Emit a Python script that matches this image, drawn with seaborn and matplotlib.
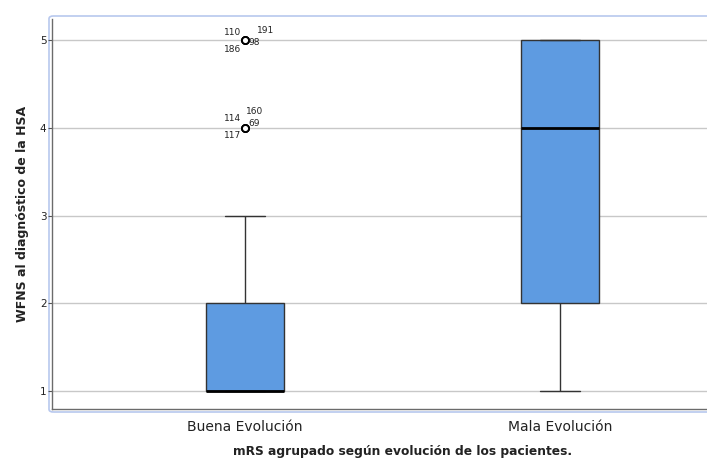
import matplotlib
matplotlib.use("Agg")
import matplotlib.pyplot as plt
import seaborn as sns
import pandas as pd
import numpy as np
from matplotlib.patches import FancyBboxPatch

# ---- data ----
categories = ["Buena Evolución", "Mala Evolución"]
wfns_levels = [1, 2, 3, 4, 5]
buena_counts = [60, 30, 8, 3, 3]
mala_counts = [10, 15, 10, 20, 30]
outlier_labels_5 = ["110", "191", "98", "186"]
outlier_labels_4 = ["114", "160", "69", "117"]
y_ticks = [1, 2, 3, 4, 5]

rows = []
for cat, counts in zip(categories, [buena_counts, mala_counts]):
    for lvl, c in zip(wfns_levels, counts):
        rows += [{"grupo": cat, "wfns": lvl}] * c
df = pd.DataFrame(rows)

sns.set_style("white")
plt.rcParams["font.family"] = ["DejaVu Sans"]

fig = plt.figure(figsize=(7.07, 4.59), dpi=100)
ax = fig.add_axes([52/707, (459-409)/459, (754-52)/707, (409-19)/459])

box_color = "#5E9BE1"
sns.boxplot(data=df, x="grupo", y="wfns", order=categories, ax=ax,
            width=0.25, color=box_color, saturation=1, linewidth=1.0,
            linecolor="#333333",
            whis=1.5,
            medianprops=dict(color="black", linewidth=2),
            flierprops=dict(marker="o", markersize=5, markerfacecolor="white",
                            markeredgecolor="black", markeredgewidth=1.3),
            zorder=3)

ax.set_xlim(-0.613, 1.616)
ax.set_ylim(0.795, 5.24)
ax.set_yticks(y_ticks)
ax.set_yticklabels([str(t) for t in y_ticks], fontsize=7.5, color="#222222")
ax.tick_params(axis="y", length=3, width=0.8, color="#555555", pad=1, left=True)
ax.tick_params(axis="x", length=0, labelsize=10, pad=8, colors="#222222")
ax.yaxis.grid(True, color="#c8c8c8", linewidth=1.0, zorder=0)
ax.set_axisbelow(True)
for s in ["top", "right"]:
    ax.spines[s].set_visible(False)
for s in ["left", "bottom"]:
    ax.spines[s].set_color("#6b6b6b")
    ax.spines[s].set_linewidth(1.0)

ax.set_xlabel("mRS agrupado según evolución de los pacientes.", fontsize=8.8,
              fontweight="bold", labelpad=8, color="#222222")
ax.set_ylabel("WFNS al diagnóstico de la HSA", fontsize=9,
              fontweight="bold", labelpad=8, color="#222222")

# outlier case labels (offsets in pixels -> points)
px = 0.72
offs5 = [(-21, 8), (12, 10), (3, -2), (-21, -9)]
offs4 = [(-21, 9), (1, 16), (3, 4), (-21, -8)]
for yv, labels, offs in [(5, outlier_labels_5, offs5), (4, outlier_labels_4, offs4)]:
    for lab, (dx, dy) in zip(labels, offs):
        ax.annotate(lab, xy=(0, yv), xytext=(dx * px, dy * px),
                    textcoords="offset points",
                    fontsize=6.5, color="#222222", va="center", ha="left")

# outer light-blue frame
frame = FancyBboxPatch((49/707, (459-412)/459), 720/707, (412-16)/459,
                       boxstyle="round,pad=0,rounding_size=0.006",
                       transform=fig.transFigure, fill=False,
                       edgecolor="#b8c8ee", linewidth=1.2, zorder=-1)
fig.patches.append(frame)

fig.savefig("out.png", dpi=100)
